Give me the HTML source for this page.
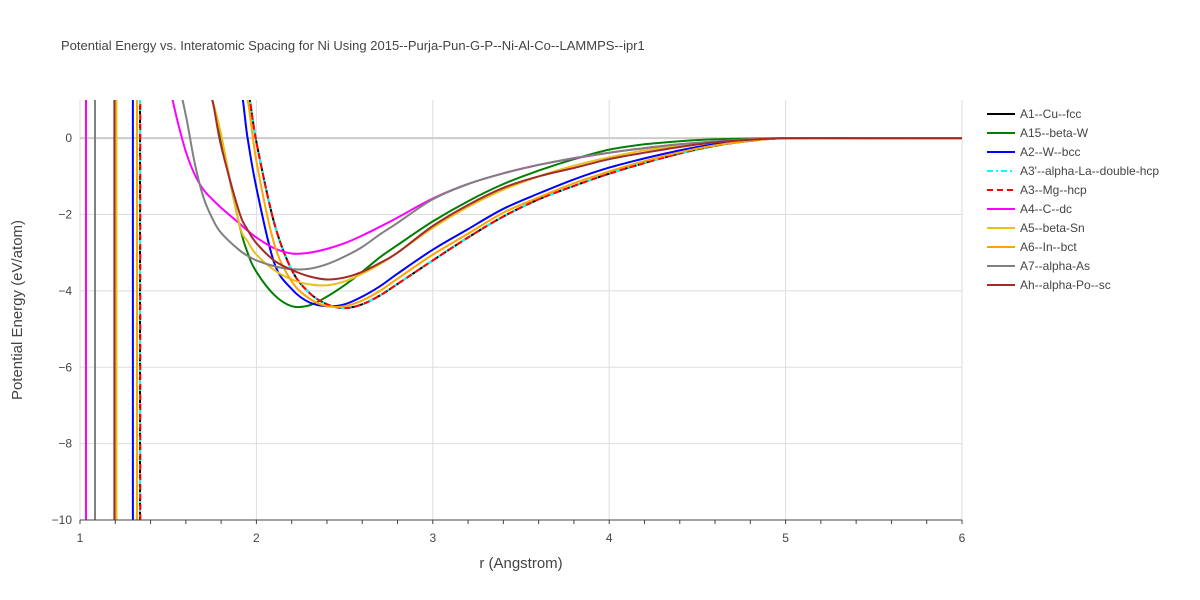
<!DOCTYPE html>
<html><head><meta charset="utf-8"><style>
html,body{margin:0;padding:0;background:#fff;font-family:"Liberation Sans",sans-serif;overflow:hidden;width:1200px;height:600px}
svg{display:block}
svg text{font-family:"Liberation Sans",sans-serif;fill:#444}
</style></head><body>
<svg id="chart" width="1200" height="600" xmlns="http://www.w3.org/2000/svg">
<rect width="1200" height="600" fill="#fff"/>
<text x="61" y="50" font-size="13">Potential Energy vs. Interatomic Spacing for Ni Using 2015--Purja-Pun-G-P--Ni-Al-Co--LAMMPS--ipr1</text>
<defs><clipPath id="clip"><rect x="80" y="100" width="882" height="420"/></clipPath></defs>
<g id="grid"></g>
<g id="series" clip-path="url(#clip)"></g>
<g id="axes"></g>
<g id="legend"></g>
<text x="521" y="568" font-size="15" text-anchor="middle">r (Angstrom)</text>
<text transform="translate(22,310) rotate(-90)" font-size="15" text-anchor="middle">Potential Energy (eV/atom)</text>
</svg>
<script>
const rGrid = [1.5,1.55,1.6,1.65,1.7,1.75,1.8,1.9,1.95,2.0,2.1,2.2,2.3,2.4,2.5,2.6,2.7,2.8,3.0,3.2,3.4,3.6,3.8,4.0,4.2,4.4,4.6,4.8,5.0,5.5,6.0];
const seriesNames = ["A1--Cu--fcc","A15--beta-W","A2--W--bcc","A3'--alpha-La--double-hcp","A3--Mg--hcp","A4--C--dc","A5--beta-Sn","A6--In--bct","A7--alpha-As","Ah--alpha-Po--sc"];
const spikeR = [1.34,1.205,1.30,1.34,1.342,1.034,1.207,1.323,1.085,1.195];
const eA1 = [9,9,9,9,9,9,6,3,1.3,-0.1,-2.2,-3.45,-4.05,-4.35,-4.45,-4.35,-4.12,-3.82,-3.2,-2.6,-2.05,-1.6,-1.25,-0.93,-0.65,-0.4,-0.2,-0.07,0,0,0];
const eA15 = [9,9,9,6,3,1.0,0.0,-2.2,-3.0,-3.5,-4.1,-4.4,-4.38,-4.15,-3.85,-3.5,-3.12,-2.8,-2.18,-1.65,-1.2,-0.85,-0.55,-0.3,-0.16,-0.08,-0.03,-0.01,0,0,0];
const eA2 = [9,9,9,9,9,9,6,1.5,0.0,-1.3,-3.25,-3.95,-4.3,-4.4,-4.35,-4.15,-3.88,-3.55,-2.92,-2.38,-1.85,-1.45,-1.08,-0.77,-0.53,-0.32,-0.16,-0.06,0,0,0];
const eA4 = [3,0.5,-0.35,-0.95,-1.35,-1.6,-1.82,-2.22,-2.42,-2.6,-2.88,-3.02,-3.0,-2.9,-2.75,-2.55,-2.32,-2.08,-1.58,-1.2,-0.92,-0.7,-0.53,-0.38,-0.26,-0.16,-0.09,-0.03,0,0,0];
const eA5 = [9,9,9,6,3,1.0,0.1,-2.2,-2.7,-3.05,-3.45,-3.7,-3.83,-3.85,-3.75,-3.55,-3.3,-3.0,-2.35,-1.8,-1.35,-1.0,-0.72,-0.5,-0.32,-0.2,-0.1,-0.03,0,0,0];
const eA6 = [9,9,9,9,9,9,6,2.5,1.0,-0.6,-2.75,-3.75,-4.2,-4.4,-4.4,-4.25,-4.0,-3.68,-3.05,-2.5,-1.95,-1.55,-1.18,-0.87,-0.6,-0.37,-0.19,-0.07,0,0,0];
const eA7 = [9,2.2,0.6,-0.65,-1.55,-2.1,-2.48,-2.92,-3.08,-3.2,-3.35,-3.43,-3.42,-3.3,-3.1,-2.85,-2.52,-2.22,-1.6,-1.2,-0.92,-0.7,-0.52,-0.38,-0.26,-0.16,-0.09,-0.03,0,0,0];
const eAh = [9,9,9,6,3,1.0,-0.2,-1.9,-2.4,-2.75,-3.2,-3.45,-3.62,-3.7,-3.65,-3.5,-3.27,-3.0,-2.3,-1.75,-1.3,-1.0,-0.78,-0.55,-0.38,-0.23,-0.11,-0.04,0,0,0];
const seriesE = [eA1,eA15,eA2,eA1,eA1,eA4,eA5,eA6,eA7,eAh];
const colors = ["#000","green","blue","cyan","red","magenta","#e8c11c","orange","gray","brown"];
const dashes = ["","","","6,3,2,3","6,4","","","","",""];
const xTicks = [1,2,3,4,5,6];
const yTicks = [0,-2,-4,-6,-8,-10];
const NS="http://www.w3.org/2000/svg";
const X0=80,X1=962,Y0=520,Y1=100;
const xs=r=>X0+(r-1)/(6-1)*(X1-X0);
const ys=e=>Y0-(e+10)/(1+10)*(Y0-Y1);
const yc=e=>Math.max(Y1-20,Math.min(Y0+20,ys(e)));
function mk(t,a,p){const e=document.createElementNS(NS,t);for(const k in a)e.setAttribute(k,a[k]);p.appendChild(e);return e;}
const grid=document.getElementById('grid'),axes=document.getElementById('axes'),ser=document.getElementById('series'),leg=document.getElementById('legend');
xTicks.forEach(v=>{
 const l=mk('line',{x1:xs(v),x2:xs(v),y1:Y1,y2:Y0,stroke:'#ddd','stroke-width':1},grid);
 
 
 const t=mk('text',{x:xs(v),y:Y0+22,'font-size':12,'text-anchor':'middle'},axes);t.textContent=v;
 
 
});
for(let v=1;v<=6.001;v+=0.2){mk('line',{x1:xs(v),x2:xs(v),y1:Y0,y2:Y0+4,stroke:'#444','stroke-width':1},axes);}
yTicks.forEach(v=>{
 const l=mk('line',{x1:X0,x2:X1,y1:ys(v),y2:ys(v),stroke:v===0?'#ccc':'#ddd','stroke-width':v===0?2:1},grid);
 
 
 const t=mk('text',{x:X0-8,y:ys(v)+4,'font-size':12,'text-anchor':'end'},axes);t.textContent=v<0?'\u2212'+(-v):v;
 
 
});
const ax=mk('line',{x1:X0,x2:X1,y1:Y0,y2:Y0,stroke:'#444','stroke-width':1},axes);


function smooth(P){
 let d='M'+P[0][0].toFixed(1)+','+P[0][1].toFixed(1);
 for(let i=0;i<P.length-1;i++){
  const p0=P[Math.max(0,i-1)],p1=P[i],p2=P[i+1],p3=P[Math.min(P.length-1,i+2)];
  const c1x=p1[0]+(p2[0]-p0[0])/6,c1y=p1[1]+(p2[1]-p0[1])/6;
  const c2x=p2[0]-(p3[0]-p1[0])/6,c2y=p2[1]-(p3[1]-p1[1])/6;
  d+=' C'+c1x.toFixed(1)+','+c1y.toFixed(1)+' '+c2x.toFixed(1)+','+c2y.toFixed(1)+' '+p2[0].toFixed(1)+','+p2[1].toFixed(1);
 }
 return d;
}
seriesNames.forEach((n,i)=>{
 const sx=xs(spikeR[i]).toFixed(1);
 const P=rGrid.map((r,j)=>[xs(r),yc(seriesE[i][j])]);
 const d='M'+sx+','+yc(-100)+' L'+sx+','+yc(100)+' '+smooth(P);
 const a={d:d,fill:'none',stroke:colors[i],'stroke-width':2,'stroke-linejoin':'round'};
 if(dashes[i])a['stroke-dasharray']=dashes[i];
 const p=mk('path',a,ser);
 
 
 const y=114+i*19;
 const la={x1:987,x2:1015,y1:y,y2:y,stroke:colors[i],'stroke-width':2};
 if(dashes[i])la['stroke-dasharray']=dashes[i];
 const ll=mk('line',la,leg);
 
 
 const t=mk('text',{x:1020,y:y+4,'font-size':12},leg);t.textContent=n;
 
 
});
</script>
</body></html>
